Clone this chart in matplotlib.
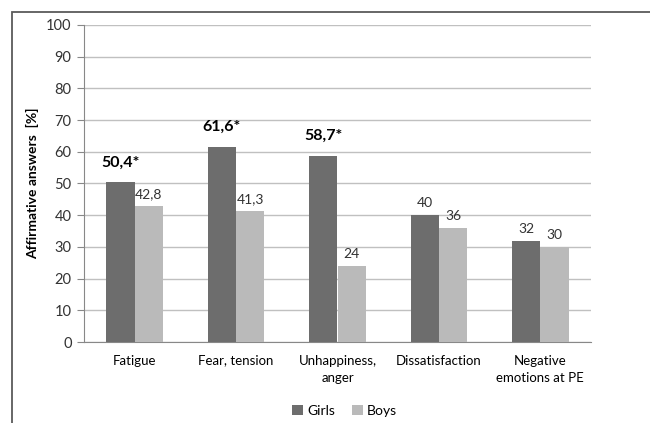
import numpy as np
import matplotlib
matplotlib.use('Agg')
import matplotlib.pyplot as plt
from matplotlib.patches import Rectangle

categories = ['Fatigue', 'Fear, tension', 'Unhappiness,\nanger', 'Dissatisfaction',
              'Negative\nemotions at PE']
girls = [50.4, 61.6, 58.7, 40, 32]
boys = [42.8, 41.3, 24, 36, 30]
girls_labels = ['50,4*', '61,6*', '58,7*', '40', '32']
boys_labels = ['42,8', '41,3', '24', '36', '30']
significant = [True, True, True, False, False]

plt.rcParams['font.family'] = ['Lato', 'DejaVu Sans']

fig = plt.figure(figsize=(6.5, 4.23), dpi=100)
ax = fig.add_axes([84 / 650, 81 / 423, 507 / 650, 317 / 423])

# outer frame, cut off at right and bottom like the source
fig.patches.append(Rectangle((12 / 650, -0.1), 1.2, (423 - 12) / 423 + 0.1,
                             transform=fig.transFigure, fill=False,
                             edgecolor='#5a5a5a', linewidth=1.3))

x = np.arange(len(categories))
w = 0.28
ax.bar(x - w / 2, girls, w, color='#6d6d6d', label='Girls', zorder=3)
ax.bar(x + w / 2, boys, w, color='#bababa', label='Boys', zorder=3)

for i in range(len(categories)):
    if significant[i]:
        ax.text(x[i] - w / 2, girls[i] + 4, girls_labels[i], ha='center', va='bottom',
                fontsize=11.5, fontweight='bold', color='black')
    else:
        ax.text(x[i] - w / 2, girls[i] + 1.8, girls_labels[i], ha='center', va='bottom',
                fontsize=10, color='#333333')
    ax.text(x[i] + w / 2, boys[i] + 1.8, boys_labels[i], ha='center', va='bottom',
            fontsize=10, color='#333333')

ax.set_xlim(-0.5, len(categories) - 0.5)
ax.set_ylim(0, 100)
ax.set_yticks(np.arange(0, 101, 10))
ax.set_xticks(x)
ax.set_xticklabels(categories, fontsize=9.5, linespacing=1.5)
ax.tick_params(axis='x', length=0, pad=9)
ax.tick_params(axis='y', length=5, color='#888888', labelsize=10.5, labelcolor='#333333', pad=4)
ax.grid(axis='y', color='#c0c0c0', linewidth=1, zorder=0)
for s in ['top', 'right']:
    ax.spines[s].set_visible(False)
ax.spines['left'].set_color('#888888')
ax.spines['bottom'].set_color('#888888')
ax.set_ylabel('Affirmative answers  [%]', fontsize=10, fontweight='bold', labelpad=5)

fig.legend(loc='lower center', bbox_to_anchor=(0.53, -0.015), ncol=2, frameon=False,
           fontsize=10, handlelength=0.8, handleheight=0.8, handletextpad=0.3,
           columnspacing=1.2)

fig.savefig('out.png', dpi=100)
